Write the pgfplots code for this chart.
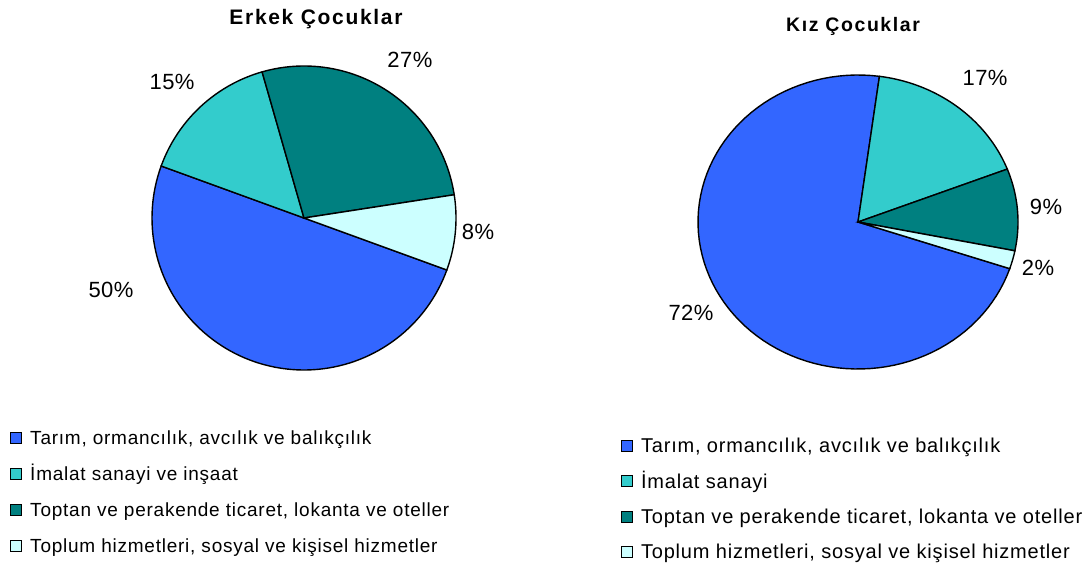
\documentclass[border=0pt]{standalone}
\usepackage{fontspec}
\setmainfont{Liberation Sans}
\newfontfamily\titlefont[LetterSpace=8]{Liberation Sans}
\newfontfamily\legfont[LetterSpace=4]{Liberation Sans}
\newfontfamily\pctfont[LetterSpace=2]{Liberation Sans}
\usepackage{pgfplots}
\pgfplotsset{compat=1.18}
\definecolor{cTar}{HTML}{3366FF}
\definecolor{cIma}{HTML}{33CCCC}
\definecolor{cTop}{HTML}{008080}
\definecolor{cHiz}{HTML}{CCFFFF}

% one slice: #1 percentage, #2 colour, #3 legend text
\newcommand\slice[3]{%
  \pgfmathsetmacro\sliceB{90-\cum}%
  \pgfmathsetmacro\sliceA{90-\cum-3.6*#1}%
  \edef\tmp{\noexpand\addplot[pieslice, fill=#2, domain=\sliceA:\sliceB]}%
  \tmp ({cos(x)},{sin(x)}) -- (axis cs:0,0) -- cycle;
  \addlegendentry{#3}
  \pgfmathsetmacro\cum{\cum+3.6*#1}%
  \xdef\cum{\cum}}

\pgfplotsset{
  pieslice/.style={draw=black, line width=1.4bp, samples=90, mark=none},
  pieaxis/.style={hide axis, scale only axis, xmin=-1, xmax=1, ymin=-1, ymax=1,
    clip=false, anchor=center, legend cell align=left,
    legend image code/.code={\draw[##1, line width=1bp] (0bp,-4bp) rectangle (11bp,7bp);},
    legend style={draw=none, fill=none, inner sep=0pt, anchor=north west, column sep=8bp}},
}
\newcommand\pct{\pctfont\fontsize{22bp}{26bp}\selectfont}

\begin{document}
\begin{tikzpicture}
\useasboundingbox (0bp,0bp) rectangle (1091bp,565bp);

\node[font=\titlefont\bfseries\fontsize{21bp}{25bp}\selectfont, anchor=base] at (316bp,540bp) {Erkek Çocuklar};
\node[font=\titlefont\bfseries\fontsize{19.5bp}{23bp}\selectfont, anchor=base] at (853bp,533bp) {Kız Çocuklar};

\begin{axis}[pieaxis, at={(304bp,347bp)}, width=304bp, height=304bp,
  legend style={at={(-0.467,-0.197)}, row sep=18bp,
    font=\legfont\fontsize{19bp}{22bp}\selectfont,
    nodes={inner sep=0pt, text height=14bp, text depth=4bp}}]
  \gdef\cum{110}
  \slice{50}{cTar}{Tarım, ormancılık, avcılık ve balıkçılık}
  \slice{15}{cIma}{İmalat sanayi ve inşaat}
  \slice{27}{cTop}{Toptan ve perakende ticaret, lokanta ve oteller}
  \slice{8}{cHiz}{Toplum hizmetleri, sosyal ve kişisel hizmetler}
  \node[font=\pct] at (axis cs:0.697,1.039) {27\%};
  \node[font=\pct] at (axis cs:-0.868,0.895) {15\%};
  \node[font=\pct] at (axis cs:1.145,-0.092) {8\%};
  \node[font=\pct] at (axis cs:-1.27,-0.474) {50\%};
\end{axis}

\begin{axis}[pieaxis, at={(858bp,343bp)}, width=320bp, height=294bp,
  legend style={at={(-0.241,-0.234)}, row sep=16bp,
    font=\legfont\fontsize{20bp}{23bp}\selectfont,
    nodes={inner sep=0pt, text height=14.8bp, text depth=4.5bp}}]
  \gdef\cum{108.5}
  \slice{72}{cTar}{Tarım, ormancılık, avcılık ve balıkçılık}
  \slice{17}{cIma}{İmalat sanayi}
  \slice{9}{cTop}{Toptan ve perakende ticaret, lokanta ve oteller}
  \slice{2}{cHiz}{Toplum hizmetleri, sosyal ve kişisel hizmetler}
  \node[font=\pct] at (axis cs:0.794,0.98) {17\%};
  \node[font=\pct] at (axis cs:1.175,0.102) {9\%};
  \node[font=\pct] at (axis cs:1.125,-0.313) {2\%};
  \node[font=\pct] at (axis cs:-1.044,-0.619) {72\%};
\end{axis}
\end{tikzpicture}
\end{document}
